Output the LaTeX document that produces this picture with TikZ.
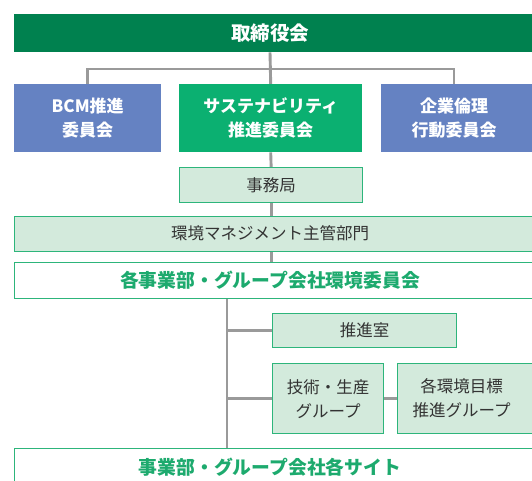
\documentclass[tikz,border=0pt]{standalone}
\usepackage{fontspec}
\newfontfamily\jp{Noto Sans CJK JP}
\usetikzlibrary{calc}
\definecolor{dkgreen}{HTML}{00814F}
\definecolor{midgreen}{HTML}{0BB071}
\definecolor{boxblue}{HTML}{6582C2}
\definecolor{lightfill}{HTML}{D3EADC}
\definecolor{edgegreen}{HTML}{2DB57B}
\definecolor{txtgreen}{HTML}{1DAA6E}
\definecolor{linegray}{HTML}{9A9A9A}
\definecolor{txtgray}{HTML}{333333}
\pgfdeclarelayer{bg}
\pgfsetlayers{bg,main}
\begin{document}
\begin{tikzpicture}[x=1pt,y=-1pt,
  conn/.style={draw=linegray, line width=2.9pt},
  basebox/.style={rectangle, inner sep=0pt, anchor=north west, align=center},
  darkbox/.style={basebox, fill=dkgreen},
  bluebox/.style={basebox, fill=boxblue, text=white, font=\jp\bfseries\fontsize{17}{24}\selectfont},
  greenbox/.style={basebox, fill=midgreen, text=white, font=\jp\bfseries\fontsize{17}{24}\selectfont},
  lightbox/.style={basebox, fill=lightfill, draw=edgegreen, line width=1.3pt, text=txtgray, font=\jp\fontsize{16.5}{24}\selectfont},
  whitebox/.style={basebox, fill=white, draw=edgegreen, line width=1.3pt},
  wtext/.style={text=white, inner sep=0pt, align=center},
  gtext/.style={text=txtgreen, inner sep=0pt, font=\jp\bfseries\fontsize{18.8}{22}\selectfont},
  ltext/.style={text=txtgray, inner sep=0pt, align=center, font=\jp\fontsize{16.5}{24}\selectfont}
]
\useasboundingbox (0,0) rectangle (532,480);
\clip (0,0) rectangle (532,480);

% boxes
\node[darkbox, minimum width=540pt, minimum height=38pt] (board) at (14,14) {};
\node[wtext, font=\jp\bfseries\fontsize{19.5}{22}\selectfont] (boardT) at (270,33) {取締役会};

\node[bluebox, minimum width=147pt, minimum height=68pt] (bcm) at (14,84) {BCM推進\\委員会};
\node[greenbox, minimum width=183pt, minimum height=68pt] (sust) at (179,84) {サステナビリティ\\推進委員会};
\node[bluebox, minimum width=160pt, minimum height=68pt] (ethic) at (381,84) {};
\node[wtext, font=\jp\bfseries\fontsize{17}{24}\selectfont] (ethicT) at (454,118) {企業倫理\\行動委員会};

\node[lightbox, minimum width=183pt, minimum height=35pt] (jim) at (179,167) {事務局};

\node[lightbox, minimum width=540pt, minimum height=35pt] (kankyo) at (14,216) {};
\node[ltext] (kankyoT) at (270,233.5) {環境マネジメント主管部門};

\node[whitebox, minimum width=540pt, minimum height=36pt] (kaku) at (14,262) {};
\node[gtext] (kakuT) at (270,280) {各事業部・グループ会社環境委員会};

\node[lightbox, minimum width=184pt, minimum height=34pt] (suishin) at (272,313) {推進室};
\node[lightbox, minimum width=111pt, minimum height=70pt] (gijutsu) at (272,363) {技術・生産\\グループ};
\node[lightbox, minimum width=150pt, minimum height=70pt] (kakukankyo) at (397,363) {};
\node[ltext] (kakukankyoT) at (461.5,398) {各環境目標\\推進グループ};

\node[whitebox, minimum width=540pt, minimum height=60pt] (site) at (14,448) {};
\node[gtext] (siteT) at (270,467) {事業部・グループ会社各サイト};

% connectors
\coordinate (hbar) at (0,69);
\coordinate (tk) at (227,0);
\begin{pgfonlayer}{bg}
\draw[conn] (boardT |- board.south) -- (sust.north);
\draw[conn] (bcm.north) -- (bcm.north |- hbar) -- (ethicT.north |- hbar) -- (ethicT.north |- ethic.north);
\draw[conn] (sust.south) -- (jim.north);
\draw[conn] (jim.south) -- (jim.south |- kankyo.north);
\draw[conn] (jim.south |- kankyo.south) -- (jim.south |- kaku.north);
\draw[conn] (tk |- kaku.south) -- (tk |- site.north);
\draw[conn] (tk |- suishin.west) -- (suishin.west);
\draw[conn] (tk |- gijutsu.west) -- (gijutsu.west);
\draw[conn] (gijutsu.east) -- (gijutsu.east -| kakukankyo.west);
\end{pgfonlayer}
\end{tikzpicture}
\end{document}
